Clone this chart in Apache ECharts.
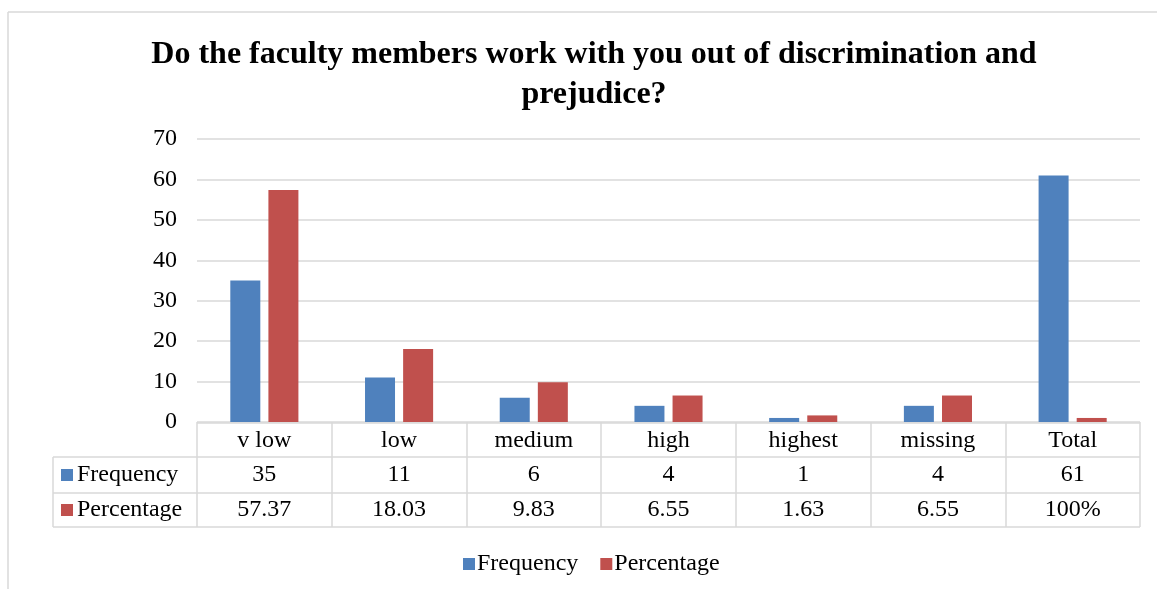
<!DOCTYPE html>
<html>
<head>
<meta charset="utf-8">
<title>Discrimination and prejudice survey</title>
<script src="https://cdn.jsdelivr.net/npm/echarts@6/dist/echarts.min.js"></script>
<style>
  html, body { margin: 0; padding: 0; background: #ffffff; }
  #chart { width: 1157px; height: 589px; }
</style>
</head>
<body>
<div id="chart"></div>
<script>
// Survey answers and their counts / shares
const categories = ['v low', 'low', 'medium', 'high', 'highest', 'missing', 'Total'];
const frequency = [35, 11, 6, 4, 1, 4, 61];
const percentage = [57.37, 18.03, 9.83, 6.55, 1.63, 6.55, 1];
const frequencyText = ['35', '11', '6', '4', '1', '4', '61'];
const percentageText = ['57.37', '18.03', '9.83', '6.55', '1.63', '6.55', '100%'];
const seriesNames = ['Frequency', 'Percentage'];
const yTicks = [0, 10, 20, 30, 40, 50, 60, 70];

const SERIF = "'Liberation Serif', 'Times New Roman', serif";
const BLUE = '#4f81bd';
const RED = '#c0504d';
const LINE = '#d9d9d9';
const FS = 24;

const chart = echarts.init(document.getElementById('chart'), null, { renderer: 'canvas' });

const GRID = { left: 197, right: 17, top: 139, bottom: 167 };

const option = {
  animation: false,
  backgroundColor: '#ffffff',
  title: {
    text: 'Do the faculty members work with you out of discrimination and\nprejudice?',
    left: 589,
    top: 30,
    textAlign: 'center',
    textStyle: {
      fontFamily: SERIF,
      fontWeight: 'bold',
      fontSize: 32,
      lineHeight: 40,
      color: '#000000'
    }
  },
  legend: {
    data: seriesNames,
    left: 458,
    top: 547,
    itemWidth: 12,
    itemHeight: 12,
    itemGap: 22,
    icon: 'rect',
    textStyle: { fontFamily: SERIF, fontSize: FS, color: '#000000', padding: [0, 0, 0, -3] }
  },
  grid: GRID,
  xAxis: {
    type: 'category',
    data: categories,
    axisLine: { show: false },
    axisTick: {
      show: true,
      length: 105,
      lineStyle: { color: LINE, width: 1.5 }
    },
    axisLabel: {
      margin: 19,
      verticalAlign: 'middle',
      fontFamily: SERIF,
      fontSize: FS,
      color: '#000000'
    },
    splitLine: { show: false }
  },
  yAxis: {
    type: 'value',
    min: yTicks[0],
    max: yTicks[yTicks.length - 1],
    interval: 10,
    axisLine: { show: false },
    axisTick: { show: false },
    axisLabel: {
      margin: 20,
      fontFamily: SERIF,
      fontSize: FS,
      color: '#000000'
    },
    splitLine: { lineStyle: { color: LINE, width: 1.5 } }
  },
  series: [
    {
      name: seriesNames[0],
      type: 'bar',
      data: frequency,
      barWidth: 30,
      barGap: '27%',
      itemStyle: { color: BLUE }
    },
    {
      name: seriesNames[1],
      type: 'bar',
      data: percentage,
      barWidth: 30,
      barGap: '27%',
      itemStyle: { color: RED }
    }
  ]
};

chart.setOption(option);

// Data table under the plot, laid out from the category axis positions
function buildTable() {
  const x0 = chart.convertToPixel({ xAxisIndex: 0 }, 0);
  const x1 = chart.convertToPixel({ xAxisIndex: 0 }, 1);
  const step = x1 - x0;
  const tableLeft = x0 - step / 2;
  const tableRight = tableLeft + step * categories.length;
  const yZero = chart.convertToPixel({ yAxisIndex: 0 }, 0);

  const headTop = yZero + 1;
  const row1Top = headTop + 34;
  const row2Top = row1Top + 36;
  const tableBottom = row2Top + 34;
  const labelLeft = 53;

  const lineStyle = { stroke: LINE, lineWidth: 1.5 };
  const els = [];

  // frame around the whole figure (top and left edges)
  els.push({ type: 'line', shape: { x1: 8, y1: 12, x2: 1157, y2: 12 }, style: lineStyle, silent: true });
  els.push({ type: 'line', shape: { x1: 8, y1: 12, x2: 8, y2: 589 }, style: lineStyle, silent: true });

  // horizontal table rules
  els.push({ type: 'line', shape: { x1: tableLeft, y1: headTop, x2: tableRight, y2: headTop }, style: lineStyle, silent: true });
  [row1Top, row2Top, tableBottom].forEach(function (y) {
    els.push({ type: 'line', shape: { x1: labelLeft, y1: y, x2: tableRight, y2: y }, style: lineStyle, silent: true });
  });
  // left edge of the row-label column
  els.push({ type: 'line', shape: { x1: labelLeft, y1: row1Top, x2: labelLeft, y2: tableBottom }, style: lineStyle, silent: true });

  const rows = [
    { name: seriesNames[0], color: BLUE, texts: frequencyText, top: row1Top, h: 36 },
    { name: seriesNames[1], color: RED, texts: percentageText, top: row2Top, h: 34 }
  ];

  rows.forEach(function (row) {
    const cy = row.top + row.h / 2;
    els.push({
      type: 'rect',
      shape: { x: 61, y: cy - 6, width: 12, height: 12 },
      style: { fill: row.color },
      silent: true
    });
    els.push({
      type: 'text',
      x: 77, y: cy,
      style: {
        text: row.name,
        font: FS + 'px ' + SERIF,
        fill: '#000000',
        textAlign: 'left',
        textVerticalAlign: 'middle'
      },
      silent: true
    });
    row.texts.forEach(function (t, i) {
      const cx = chart.convertToPixel({ xAxisIndex: 0 }, i);
      els.push({
        type: 'text',
        x: cx, y: cy,
        style: {
          text: t,
          font: FS + 'px ' + SERIF,
          fill: '#000000',
          textAlign: 'center',
          textVerticalAlign: 'middle'
        },
        silent: true
      });
    });
  });

  chart.setOption({ graphic: { elements: els } });
}

buildTable();
</script>
</body>
</html>
